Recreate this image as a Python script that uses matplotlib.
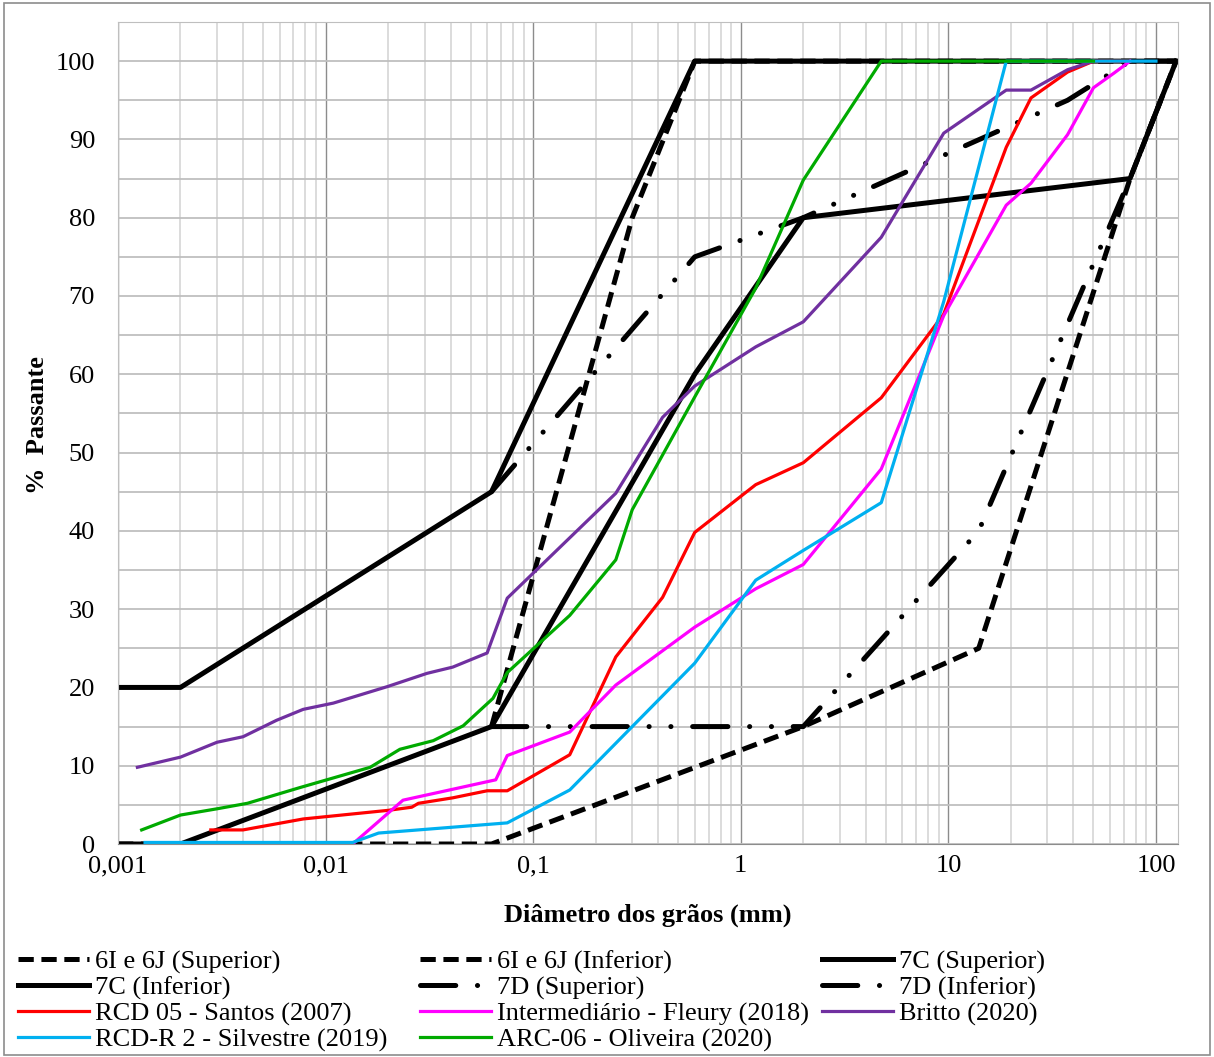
import matplotlib
matplotlib.use("Agg")
import matplotlib.pyplot as plt
from matplotlib.ticker import LogLocator, MultipleLocator, FixedLocator, NullFormatter
from matplotlib.patches import Rectangle

plt.rcParams['font.family'] = ['Liberation Serif', 'DejaVu Serif']
plt.rcParams['lines.scale_dashes'] = False

# faixas granulometricas (limites)
x_6i_sup = [0.063, 0.3, 0.6, 125]
y_6i_sup = [15, 80, 100, 100]
x_6i_inf = [0.001, 0.063, 2, 14, 75, 125]
y_6i_inf = [0, 0, 15, 25, 85, 100]
x_7c_sup = [0.001, 0.002, 0.063, 0.6, 125]
y_7c_sup = [20, 20, 45, 100, 100]
x_7c_inf = [0.001, 0.002, 0.063, 0.6, 2, 75, 125]
y_7c_inf = [0, 0, 15, 60, 80, 85, 100]
x_7d_sup = [0.063, 0.6, 2, 37.5, 75, 125]
y_7d_sup = [45, 75, 80, 95, 100, 100]
x_7d_inf = [0.063, 2, 14, 75, 125]
y_7d_inf = [15, 15, 40, 85, 100]

# curvas dos materiais
x_santos = [0.0028, 0.004, 0.0078, 0.02, 0.026, 0.028, 0.041, 0.06, 0.075, 0.15, 0.25,
            0.42, 0.6, 1.18, 2.0, 4.75, 9.5, 19, 25, 37.5, 50, 75]
y_santos = [1.8, 1.8, 3.2, 4.3, 4.7, 5.2, 5.9, 6.8, 6.8, 11.4, 23.9,
            31.5, 39.8, 45.9, 48.7, 57.0, 67.7, 89.0, 95.3, 98.6, 100, 100]
x_fleury = [0.0095, 0.0135, 0.0236, 0.066, 0.075, 0.15, 0.25, 0.6, 1.18, 2.0, 4.75,
            9.5, 19, 25, 37.5, 50, 63, 75]
y_fleury = [0, 0, 5.6, 8.2, 11.3, 14.3, 20.3, 27.7, 32.6, 35.7, 47.9,
            67.5, 81.6, 84.4, 90.6, 96.6, 98.5, 100]
x_britto = [0.00124, 0.002, 0.003, 0.004, 0.0058, 0.0078, 0.0109, 0.0198, 0.0308, 0.041,
            0.06, 0.075, 0.25, 0.42, 0.6, 1.18, 2.0, 4.75, 9.5, 19, 25, 37.5, 50]
y_britto = [9.8, 11.1, 13.0, 13.7, 15.8, 17.2, 18.0, 20.1, 21.8, 22.6,
            24.4, 31.4, 44.8, 54.5, 58.5, 63.5, 66.7, 77.5, 90.8, 96.3, 96.3, 98.9, 100]
x_silvestre = [0.00135, 0.0135, 0.018, 0.075, 0.15, 0.6, 1.18, 2.0, 4.75, 9.5, 19, 100]
y_silvestre = [0.2, 0.2, 1.4, 2.7, 6.9, 23.1, 33.7, 37.5, 43.6, 69.3, 100, 100]
x_oliveira = [0.0013, 0.002, 0.003, 0.0042, 0.0075, 0.0164, 0.0228, 0.033, 0.046, 0.064,
              0.075, 0.15, 0.25, 0.3, 0.6, 1.18, 2.0, 4.75, 50]
y_oliveira = [1.8, 3.7, 4.5, 5.2, 7.2, 9.8, 12.1, 13.2, 15.1, 18.6,
              21.9, 29.2, 36.3, 42.7, 57.1, 71.0, 84.8, 100, 100]

fs = 19

fig = plt.figure(figsize=(12.14, 10.57), dpi=100)
ax = fig.add_axes([0.0972, 0.2015, 0.8731, 0.7777])

lw_k = 3.6
lw_c = 2.3
dash_6 = (0, (11, 5.5))
dash_7d = (0, (25.4, 15.6, 0.1, 15.6, 0.1, 15.6))

l1, = ax.plot(x_6i_sup, y_6i_sup, color='black', lw=lw_k, linestyle=dash_6, label='6I e 6J (Superior)')
l2, = ax.plot(x_6i_inf, y_6i_inf, color='black', lw=lw_k, linestyle=dash_6, label='6I e 6J (Inferior)')
l3, = ax.plot(x_7c_sup, y_7c_sup, color='black', lw=lw_k, label='7C (Superior)')
l4, = ax.plot(x_7c_inf, y_7c_inf, color='black', lw=lw_k, label='7C (Inferior)')
l5, = ax.plot(x_7d_sup, y_7d_sup, color='black', lw=lw_k, linestyle=dash_7d,
              dash_capstyle='round', label='7D (Superior)')
l6, = ax.plot(x_7d_inf, y_7d_inf, color='black', lw=lw_k, linestyle=dash_7d,
              dash_capstyle='round', label='7D (Inferior)')
l7, = ax.plot(x_santos, y_santos, color='#FF0000', lw=lw_c, label='RCD 05 - Santos (2007)')
l8, = ax.plot(x_fleury, y_fleury, color='#FF00FF', lw=lw_c, label='Intermediário - Fleury (2018)')
l9, = ax.plot(x_britto, y_britto, color='#7030A0', lw=lw_c, label='Britto (2020)')
l10, = ax.plot(x_silvestre, y_silvestre, color='#00B0F0', lw=lw_c, label='RCD-R 2 - Silvestre (2019)')
l11, = ax.plot(x_oliveira, y_oliveira, color='#00AA00', lw=lw_c, label='ARC-06 - Oliveira (2020)')

ax.set_xscale('log')
ax.set_xlim(0.001, 127.6)
ax.set_ylim(0, 105)

ax.xaxis.set_major_locator(FixedLocator([0.001, 0.01, 0.1, 1, 10, 100]))
ax.set_xticklabels(['0,001', '0,01', '0,1', '1', '10', '100'])
ax.xaxis.set_minor_locator(LogLocator(base=10, subs=range(2, 10), numticks=50))
ax.xaxis.set_minor_formatter(NullFormatter())
ax.yaxis.set_major_locator(MultipleLocator(10))
ax.yaxis.set_minor_locator(MultipleLocator(5))

ax.grid(True, which='major', axis='x', color='#8C8C8C', lw=1.0, zorder=0)
ax.grid(True, which='minor', axis='x', color='#D9D9D9', lw=1.3, zorder=0)
ax.grid(True, which='both', axis='y', color='#BFBFBF', lw=1.3, zorder=0)
ax.set_axisbelow(True)

ax.tick_params(axis='both', which='both', length=0, labelsize=fs)
ax.tick_params(axis='y', pad=16.5)
ax.tick_params(axis='x', pad=8)
for s in ax.spines.values():
    s.set_color('#BFBFBF')
ax.spines['bottom'].set_color('#8C8C8C')

ax.set_xlabel('Diâmetro dos grãos (mm)', fontsize=fs, fontweight='bold', va='center')
ax.xaxis.set_label_coords(0.5, -0.0864)
ax.set_ylabel('%  Passante', fontsize=fs, fontweight='bold', va='center')
ax.yaxis.set_label_coords(-0.0764, 0.51)

cols = [[l1, l4, l7, l10], [l2, l5, l8, l11], [l3, l6, l9]]
xs = [18, 420, 822]
for handles, x0 in zip(cols, xs):
    fig.legend(handles=handles, labels=[h.get_label() for h in handles],
               loc='upper left', bbox_to_anchor=(x0 / 1214, 1 - 950 / 1057),
               frameon=False, fontsize=fs, handlelength=2.69, handletextpad=0.23,
               labelspacing=0.08, borderpad=0, borderaxespad=0)

fig.patches.append(Rectangle((4 / 1214, 2 / 1057), 1206 / 1214, 1052 / 1057,
                             transform=fig.transFigure, fill=False,
                             edgecolor='#8C8C8C', lw=1.2))

fig.savefig('out.png', dpi=100)
